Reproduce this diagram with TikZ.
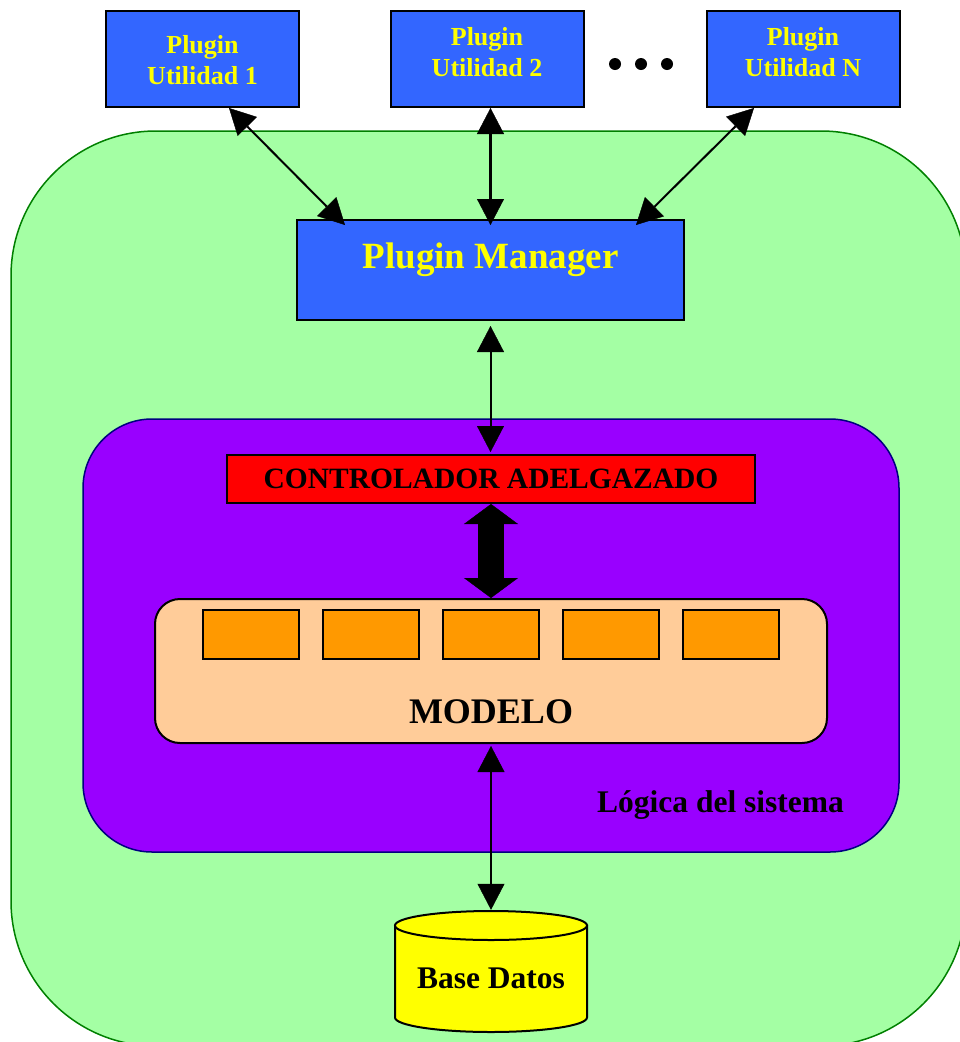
\documentclass[tikz,border=0pt]{standalone}
\usepackage{fontspec}
\setmainfont{Liberation Serif}
\usetikzlibrary{arrows.meta,calc}

\definecolor{pluginblue}{HTML}{3366FF}
\definecolor{pluginyellow}{HTML}{FFFF00}
\definecolor{coregreen}{HTML}{A4FFA4}
\definecolor{coreedge}{HTML}{008000}
\definecolor{logicpurple}{HTML}{9900FF}
\definecolor{logicedge}{HTML}{000080}
\definecolor{ctlred}{HTML}{FF0000}
\definecolor{modelpeach}{HTML}{FFCC99}
\definecolor{entityorange}{HTML}{FF9900}
\definecolor{dbyellow}{HTML}{FFFF00}

\tikzset{
  plugbox/.style={draw=black, line width=2pt, fill=pluginblue, inner sep=0pt,
    minimum width=193pt, minimum height=96pt},
  plugtext/.style={text=pluginyellow, align=center, inner sep=0pt,
    font=\bfseries\fontsize{26}{31}\selectfont},
  pmbox/.style={draw=black, line width=2pt, fill=pluginblue, inner sep=0pt,
    minimum width=387pt, minimum height=100pt},
  pmtext/.style={text=pluginyellow, inner sep=0pt,
    font=\bfseries\fontsize{37}{44}\selectfont},
  corebox/.style={draw=coreedge, line width=1.5pt, fill=coregreen,
    rounded corners=145pt, inner sep=0pt},
  logicbox/.style={draw=logicedge, line width=1.5pt, fill=logicpurple,
    rounded corners=69pt, inner sep=0pt},
  ctlbox/.style={draw=black, line width=2pt, fill=ctlred, inner sep=0pt,
    minimum width=528pt, minimum height=48pt,
    font=\bfseries\fontsize{29.5}{35}\selectfont},
  modelbox/.style={draw=black, line width=2pt, fill=modelpeach,
    rounded corners=25pt, inner sep=0pt},
  entity/.style={draw=black, line width=1.5pt, fill=entityorange, inner sep=0pt,
    minimum width=96pt, minimum height=49pt},
  titletext/.style={inner sep=0pt, font=\bfseries\fontsize{#1}{#1}\selectfont},
  biarrow/.style={line width=2pt,
    {Triangle[width=27pt,length=26pt,line width=0.4pt]}-{Triangle[width=27pt,length=26pt,line width=0.4pt]}},
  fatarrow/.style={line width=26pt,
    {Triangle[width=54pt,length=20pt,line width=0.4pt]}-{Triangle[width=54pt,length=20pt,line width=0.4pt]}},
  dotmark/.style={circle, fill=black, inner sep=0pt, minimum size=12pt}
}

\begin{document}
\begin{tikzpicture}[x=1pt, y=-1pt]
\useasboundingbox (0,0) rectangle (960,1042);

% application core
\node[corebox, minimum width=955pt, minimum height=915pt] (core) at (488.5,588.5) {};

% system logic container
\node[logicbox, minimum width=816pt, minimum height=433pt] (logic) at (491,635.5) {};
\node[titletext=31.5, anchor=base west] (logictitle) at (597,812) {Lógica del sistema};

% thin controller
\node[ctlbox] (ctl) at (491,479) {CONTROLADOR ADELGAZADO};

% model with its entities
\node[modelbox, minimum width=672pt, minimum height=144pt] (mod) at (491,671) {};
\foreach \i in {0,...,4}
  \node[entity] (e\i) at (251+120*\i, 634.5) {};
\node[titletext=36, anchor=base] (modtitle) at (491,723) {MODELO};

% plugin manager
\node[pmbox] (pm) at (490.5,270) {};
\node[pmtext, anchor=base] (pmtitle) at (490.5,268) {Plugin Manager};

% utility plugins
\node[plugbox, label={[plugtext, yshift=-1pt]center:{Plugin\\Utilidad 1}}] (u1) at (202.5,59) {};
\node[plugbox, label={[plugtext, yshift=6.5pt]center:{Plugin\\Utilidad 2}}] (u2) at (487,59) {};
\node[plugbox, label={[plugtext, yshift=6.5pt]center:{Plugin\\Utilidad N}}] (uN) at (803,59) {};
\node[dotmark] (dot1) at (615,64) {};
\node[dotmark] (dot2) at (641,64) {};
\node[dotmark] (dot3) at (667,64) {};

% database
\node[minimum width=192pt, minimum height=121pt, inner sep=0pt] (db) at (491,971.5) {};
\filldraw[fill=dbyellow, draw=black, line width=2pt]
  (395,925.5) -- (395,1017.5)
  arc[start angle=180, end angle=0, x radius=96, y radius=14.5]
  -- (587,925.5) -- cycle;
\filldraw[fill=dbyellow, draw=black, line width=2pt]
  (491,925.5) ellipse[x radius=96, y radius=14.5];
\node[titletext=31.5, anchor=base] (dbtitle) at (491,988) {Base Datos};

% connectors
\draw[biarrow] ([xshift=26.5pt]u1.south) -- ([xshift=-145.5pt,yshift=-6pt]pm.north);
\draw[biarrow, line width=3pt] (pm.north |- u2.south) -- ([yshift=-6pt]pm.north);
\draw[biarrow] ([xshift=-49pt]uN.south) -- ([xshift=145.5pt,yshift=-6pt]pm.north);
\draw[biarrow] ([yshift=-5pt]pm.south) -- ([yshift=2pt]pm.south |- ctl.north);
\draw[fatarrow] (ctl.south) -- (mod.north);
\draw[biarrow] ([yshift=-2pt]mod.south) -- ([yshift=1pt]db.north);
\end{tikzpicture}
\end{document}
